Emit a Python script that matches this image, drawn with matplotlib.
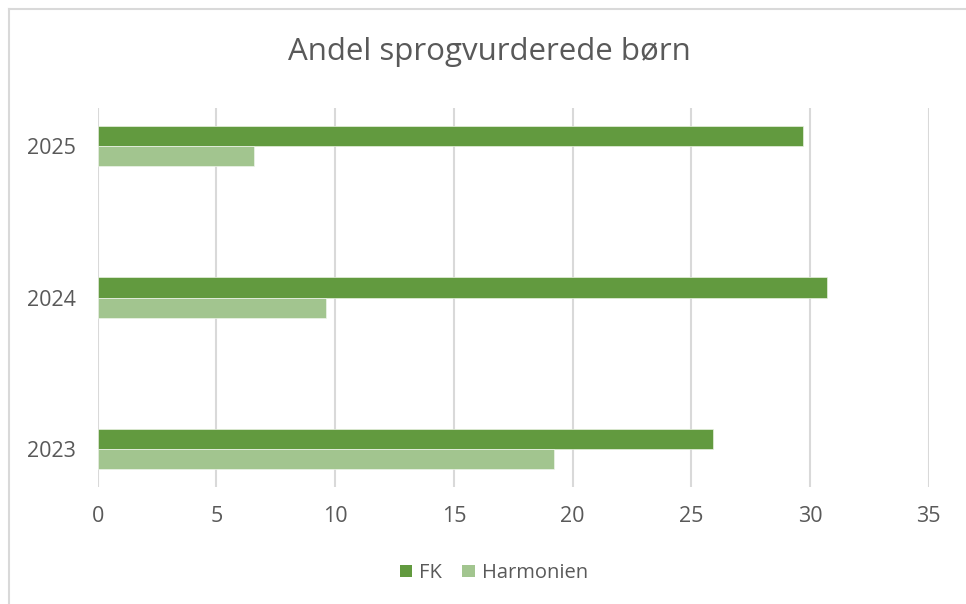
import matplotlib
matplotlib.use('Agg')
import matplotlib.pyplot as plt
import numpy as np
from matplotlib.lines import Line2D
from matplotlib.patches import Patch

plt.rcParams['font.family'] = ['Open Sans', 'DejaVu Sans']

# data
years = ['2023', '2024', '2025']
fk = [25.9, 30.7, 29.7]
harmonien = [19.2, 9.6, 6.6]

fk_color = '#629a3f'
harm_color = '#a2c58f'
text_color = '#595959'
grid_color = '#d9d9d9'

fig = plt.figure(figsize=(9.66, 6.04), dpi=100)
ax = fig.add_axes([97.7 / 966, 1 - 487 / 604, (928.7 - 97.7) / 966, (487 - 108) / 604])

y = np.arange(len(years))
h = 0.132
ax.barh(y + h / 2, fk, height=h, color=fk_color, edgecolor='#e8f0e0', linewidth=0.5, label='FK', zorder=3)
ax.barh(y - h / 2, harmonien, height=h, color=harm_color, edgecolor='#eef4ea', linewidth=0.5, label='Harmonien', zorder=3)

ax.set_xlim(0, 35)
ax.set_ylim(-0.25, 2.25)
ax.set_xticks(np.arange(0, 36, 5))
ax.set_yticks(y)
ax.set_yticklabels(years)
ax.grid(axis='x', color=grid_color, linewidth=1.5, zorder=0)
ax.grid(axis='y', visible=False)
for s in ax.spines.values():
    s.set_visible(False)
ax.tick_params(axis='both', length=0, labelsize=15.5, colors=text_color)
ax.tick_params(axis='x', pad=14)
ax.tick_params(axis='y', pad=16)

fig.text(489 / 966, 1 - 52 / 604, 'Andel sprogvurderede børn', ha='center', va='center',
         fontsize=22.5, color=text_color)

handles = [Patch(facecolor=fk_color, edgecolor='none'), Patch(facecolor=harm_color, edgecolor='none')]
fig.legend(handles, ['FK', 'Harmonien'], loc='center', bbox_to_anchor=(494 / 966, 1 - 573 / 604),
           ncol=2, frameon=False, fontsize=14.5, labelcolor=text_color, handlelength=0.6,
           handleheight=0.6, handletextpad=0.35, columnspacing=1.0)

# chart frame (left and top edges are visible)
fig.add_artist(Line2D([9 / 966, 9 / 966], [0, 1 - 9 / 604], color='#d9d9d9', linewidth=1.5))
fig.add_artist(Line2D([9 / 966, 1], [1 - 9 / 604, 1 - 9 / 604], color='#d9d9d9', linewidth=1.5))

fig.savefig('out.png', dpi=100)
